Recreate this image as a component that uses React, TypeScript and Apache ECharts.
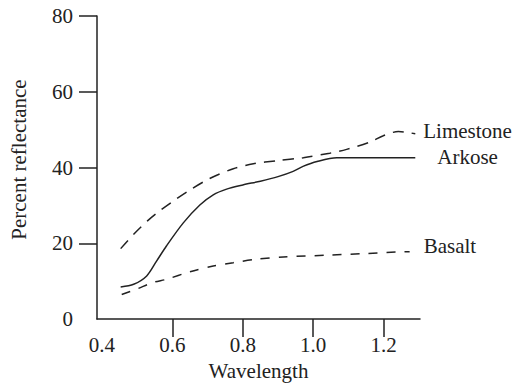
import React, { useEffect, useRef } from "react";
import * as echarts from "echarts";

const limestoneX = [0.453, 0.49, 0.53, 0.56, 0.6, 0.65, 0.706, 0.773, 0.83, 0.896, 0.972, 1.047, 1.095, 1.161, 1.199, 1.242, 1.266, 1.29];
const limestoneY = [18.6, 22.4, 26.0, 28.3, 31.0, 34.1, 37.1, 39.7, 41.0, 41.8, 42.6, 43.8, 44.8, 46.7, 48.4, 49.5, 49.3, 48.9];

const arkoseX = [0.453, 0.49, 0.527, 0.555, 0.583, 0.631, 0.678, 0.716, 0.754, 0.8, 0.85, 0.9, 0.943, 0.971, 1.011, 1.067, 1.29];
const arkoseY = [8.5, 9.2, 11.4, 15.3, 19.3, 25.4, 30.1, 32.8, 34.3, 35.4, 36.4, 37.6, 39.0, 40.3, 41.6, 42.6, 42.6];

const basaltX = [0.456, 0.498, 0.546, 0.583, 0.65, 0.716, 0.773, 0.839, 0.915, 1.047, 1.151, 1.237, 1.274];
const basaltY = [6.5, 7.9, 9.7, 10.5, 12.5, 14.0, 14.9, 15.8, 16.4, 16.9, 17.3, 17.7, 17.8];

const xTickLabels = [0.4, 0.6, 0.8, 1.0, 1.2];
const xTicks = [0.6, 0.8, 1.0, 1.2];
const yTickLabels = [0, 20, 40, 60, 80];
const yTicks = [20, 40, 60, 80];

const seriesNames = ["Limestone", "Arkose", "Basalt"];

const pairs = (xs: number[], ys: number[]) => xs.map((x, i) => [x, ys[i]]);

const FONT = "'Liberation Serif', 'Times New Roman', serif";
const INK = "#222";
const FS = 21;

export default function App() {
  const ref = useRef<HTMLDivElement>(null);
  useEffect(() => {
    if (!ref.current) return;
    const chart = echarts.init(ref.current, null, { renderer: "svg" });
    const endLabel = (offset: number[]) => ({
      show: true,
      formatter: "{a}",
      offset,
      color: INK,
      fontFamily: FONT,
      fontSize: FS,
    });
    chart.setOption({
      animation: false,
      backgroundColor: "#fff",
      grid: { left: 97, right: 93, top: 16, bottom: 64 },
      xAxis: {
        type: "value",
        min: 0.3858,
        max: 1.3034,
        name: "Wavelength",
        nameLocation: "middle",
        nameGap: 35,
        nameTextStyle: { color: INK, fontFamily: FONT, fontSize: FS },
        axisLine: { show: true, lineStyle: { color: INK, width: 1.5 } },
        axisTick: { show: true, length: 18, customValues: xTicks, lineStyle: { color: INK, width: 1.5 } },
        axisLabel: {
          customValues: xTickLabels,
          margin: 15,
          color: INK,
          fontFamily: FONT,
          fontSize: FS,
          formatter: (v: number) => v.toFixed(1),
        },
        splitLine: { show: false },
      },
      yAxis: {
        type: "value",
        min: 0,
        max: 80,
        name: "Percent reflectance",
        nameLocation: "middle",
        nameGap: 68,
        nameTextStyle: { color: INK, fontFamily: FONT, fontSize: FS, padding: [0, 0, 0, 16] },
        axisLine: { show: true, lineStyle: { color: INK, width: 1.5 } },
        axisTick: { show: true, length: 18, customValues: yTicks, lineStyle: { color: INK, width: 1.5 } },
        axisLabel: {
          customValues: yTickLabels,
          margin: 24,
          color: INK,
          fontFamily: FONT,
          fontSize: FS,
        },
        splitLine: { show: false },
      },
      series: [
        {
          name: seriesNames[0],
          type: "line",
          data: pairs(limestoneX, limestoneY),
          smooth: 0.3,
          showSymbol: false,
          lineStyle: { color: INK, width: 1.5, type: [11, 8] },
          endLabel: endLabel([0, -3]),
        },
        {
          name: seriesNames[1],
          type: "line",
          data: pairs(arkoseX, arkoseY),
          smooth: 0.3,
          showSymbol: false,
          lineStyle: { color: INK, width: 1.5 },
          endLabel: endLabel([14, -1]),
        },
        {
          name: seriesNames[2],
          type: "line",
          data: pairs(basaltX, basaltY),
          smooth: 0.3,
          showSymbol: false,
          lineStyle: { color: INK, width: 1.5, type: [9, 9] },
          endLabel: endLabel([6, -6]),
        },
      ],
    });
    return () => chart.dispose();
  }, []);
  return <div ref={ref} style={{ width: 513, height: 386, position: "absolute", left: 0, top: 0 }} />;
}
